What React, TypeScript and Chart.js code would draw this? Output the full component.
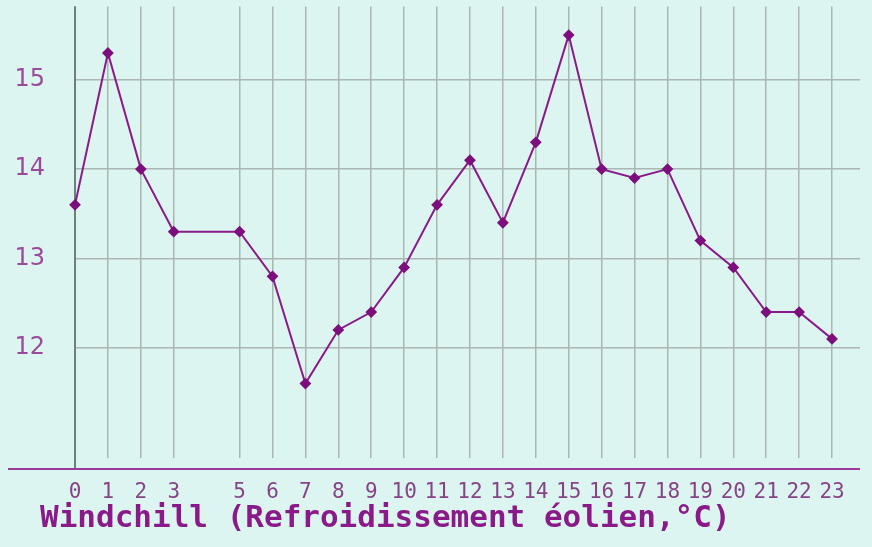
import React, { useEffect, useRef } from "react";
import { Chart, registerables } from "chart.js";

Chart.register(...registerables);

const hours = [0, 1, 2, 3, 4, 5, 6, 7, 8, 9, 10, 11, 12, 13, 14, 15, 16, 17, 18, 19, 20, 21, 22, 23];
const windchill: (number | null)[] = [
  13.6, 15.3, 14.0, 13.3, null, 13.3, 12.8, 11.6, 12.2, 12.4, 12.9, 13.6,
  14.1, 13.4, 14.3, 15.5, 14.0, 13.9, 14.0, 13.2, 12.9, 12.4, 12.4, 12.1,
];
const xTickHours = [0, 1, 2, 3, 5, 6, 7, 8, 9, 10, 11, 12, 13, 14, 15, 16, 17, 18, 19, 20, 21, 22, 23];
const yTicks = [12, 13, 14, 15];
const titleText = "Windchill (Refroidissement éolien,°C)";

const BG = "#ddf5f0";
const PURPLE = "#8a1a8a";
const GRID = "#a9b6b2";

export default function App() {
  const ref = useRef<HTMLCanvasElement>(null);

  useEffect(() => {
    document.body.style.margin = "0";
    const axisPlugin = {
      id: "axisDecor",
      afterDraw(chart: any) {
        const { ctx, chartArea } = chart;
        const yLine = chartArea.bottom + 11;
        ctx.save();
        ctx.strokeStyle = "#9a3a9a";
        ctx.lineWidth = 2;
        ctx.beginPath();
        ctx.moveTo(8, yLine);
        ctx.lineTo(chartArea.right, yLine);
        ctx.stroke();
        ctx.fillStyle = "#8a1a8a";
        ctx.font = "bold 31px 'DejaVu Sans Mono', monospace";
        ctx.textAlign = "left";
        ctx.textBaseline = "middle";
        ctx.fillText(titleText, 40, chartArea.bottom + 61);
        ctx.restore();
      },
      beforeDatasetsDraw(chart: any) {
        const { ctx, chartArea } = chart;
        ctx.save();
        ctx.strokeStyle = "#6f7f7c";
        ctx.lineWidth = 2;
        ctx.beginPath();
        ctx.moveTo(chartArea.left, chartArea.top);
        ctx.lineTo(chartArea.left, chartArea.bottom + 11);
        ctx.stroke();
        ctx.restore();
      },
    };

    const chart = new Chart(ref.current!, {
      type: "line",
      data: {
        datasets: [
          {
            data: hours.map((h, i) => ({ x: h, y: windchill[i] })) as any,
            borderColor: PURPLE,
            borderWidth: 2,
            pointStyle: "rectRot",
            pointRadius: 4.5,
            pointBackgroundColor: "#7d0f7d",
            pointBorderColor: "#7d0f7d",
            spanGaps: true,
            tension: 0,
            clip: false as any,
          },
        ],
      },
      options: {
        animation: false,
        responsive: false,
        maintainAspectRatio: false,
        layout: { padding: { top: 3, right: 12, left: 0, bottom: 0 } },
        plugins: {
          legend: { display: false },
          tooltip: { enabled: false },
          title: { display: false },
        },
        scales: {
          x: {
            type: "linear",
            min: 0,
            max: 23.85,
            afterBuildTicks: (scale: any) => {
              scale.ticks = xTickHours.map((v) => ({ value: v }));
            },
            afterFit: (scale: any) => {
              scale.height = 89;
              scale.paddingLeft = 0;
              scale.paddingRight = 0;
            },
            grid: {
              drawTicks: false,
              color: (c: any) => (c.tick && c.tick.value === 0 ? "#6f7f7c" : GRID),
              lineWidth: (c: any) => (c.tick && c.tick.value === 0 ? 2 : 1.5),
            },
            border: { display: false },
            ticks: {
              autoSkip: false,
              maxRotation: 0,
              padding: 22,
              color: "#864486",
              font: { family: "'DejaVu Sans Mono', monospace", size: 21 },
              callback: (v: any) => String(v),
            },
          },
          y: {
            min: 10.767,
            max: 15.82,
            afterBuildTicks: (scale: any) => {
              scale.ticks = yTicks.map((v) => ({ value: v }));
            },
            afterFit: (scale: any) => {
              scale.width = 75;
              scale.paddingTop = 0;
              scale.paddingBottom = 0;
            },
            grid: { drawTicks: false, color: GRID, lineWidth: 1.5 },
            border: { display: false },
            ticks: {
              padding: 30,
              color: "#9a4a9a",
              font: { family: "'DejaVu Sans', sans-serif", size: 24 },
            },
          },
        },
      },
      plugins: [axisPlugin],
    });
    return () => chart.destroy();
  }, []);

  return (
    <div style={{ width: 872, height: 547, background: BG }}>
      <canvas ref={ref} width={872} height={547} style={{ display: "block" }} />
    </div>
  );
}
